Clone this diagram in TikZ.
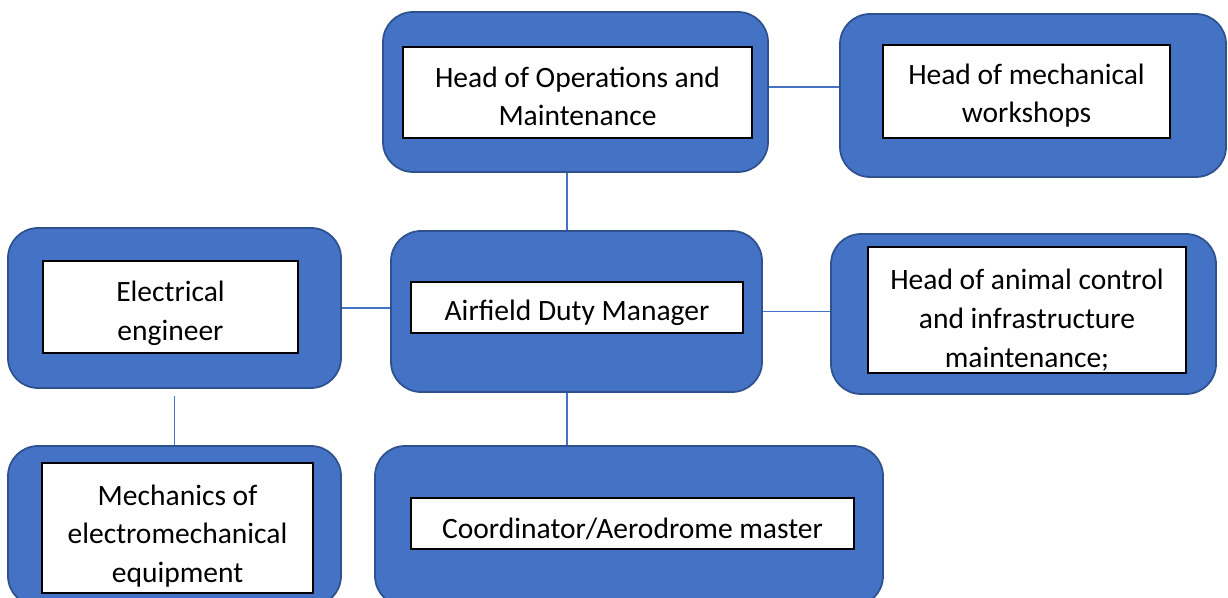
\documentclass[tikz,border=0pt]{standalone}
\usepackage{fontspec}
\setmainfont{Carlito}
\definecolor{boxblue}{HTML}{4472C4}
\definecolor{edgeblue}{HTML}{2F528F}
\tikzset{
  outerbox/.style={draw=edgeblue, line width=1pt, fill=boxblue, rounded corners=0.6cm, inner sep=0pt},
  innerbox/.style={draw=black, line width=0.8pt, fill=white, inner sep=0pt},
  boxtext/.style={align=center, inner sep=0pt, font=\fontsize{16.8}{22}\selectfont},
  link/.style={draw=boxblue, line width=0.7pt}
}
\begin{document}
\begin{tikzpicture}

    \useasboundingbox (0,0) rectangle (24.56,-11.96);
    \clip (0,0) rectangle (24.56,-11.96);

    \node[outerbox, minimum width=7.7cm, minimum height=3.2cm] at (11.51,-1.84) (hoom) {};
    \node[outerbox, minimum width=7.72cm, minimum height=3.26cm] at (20.66,-1.91) (shops) {};
    \node[outerbox, minimum width=6.66cm, minimum height=3.2cm] at (3.49,-6.16) (elec) {};
    \node[outerbox, minimum width=7.42cm, minimum height=3.22cm] at (11.53,-6.23) (adm) {};
    \node[outerbox, minimum width=7.7cm, minimum height=3.2cm] at (20.47,-6.28) (animal) {};
    \node[outerbox, minimum width=6.66cm, minimum height=3.2cm] at (3.49,-10.52) (mech) {};
    \node[outerbox, minimum width=10.16cm, minimum height=3.2cm] at (12.58,-10.52) (coord) {};

    \node[innerbox, minimum width=6.98cm, minimum height=1.82cm] at (11.55,-1.85) (hoombox) {};
    \node[innerbox, minimum width=5.74cm, minimum height=1.86cm] at (20.53,-1.83) (shopsbox) {};
    \node[innerbox, minimum width=5.1cm, minimum height=1.84cm] at (3.41,-6.14) (elecbox) {};
    \node[innerbox, minimum width=6.64cm, minimum height=1.02cm] at (11.54,-6.15) (admbox) {};
    \node[innerbox, minimum width=6.36cm, minimum height=2.52cm] at (20.54,-6.2) (animalbox) {};
    \node[innerbox, minimum width=5.42cm, minimum height=2.6cm] at (3.55,-10.56) (mechbox) {};
    \node[innerbox, minimum width=8.86cm, minimum height=1.02cm] at (12.65,-10.47) (coordbox) {};

    \node[boxtext] at ([yshift=-0.08cm]hoombox.center) (hoomlbl) {Head of Operations and\\Maintenance};
    \node[boxtext] at ([yshift=-0.08cm]shopsbox.center) (shopslbl) {Head of mechanical\\workshops};
    \node[boxtext] at ([yshift=-0.12cm]elecbox.center) (eleclbl) {Electrical\\engineer};
    \node[boxtext] at ([yshift=-0.11cm]admbox.center) (admlbl) {Airfield Duty Manager};
    \node[boxtext] at ([yshift=-0.2cm]animalbox.center) (animallbl) {Head of animal control\\and infrastructure\\maintenance;};
    \node[boxtext] at ([yshift=-0.16cm]mechbox.center) (mechlbl) {Mechanics of\\electromechanical\\equipment};
    \node[boxtext] at ([yshift=-0.1cm]coordbox.center) (coordlbl) {Coordinator/Aerodrome master};

    \draw[link] ([yshift=0.1cm]hoom.east) -- ([yshift=0.1cm]hoom.east -| shops.west);
    \draw[link] ([xshift=-0.17cm]hoom.south) -- ([xshift=-0.17cm]hoom.south |- adm.north);
    \draw[link] (elec.east) -- (elec.east -| adm.west);
    \draw[link] (adm.east) -- (adm.east -| animal.west);
    \draw[link] ([yshift=-0.14cm]elec.south) -- (elec.south |- mech.north);
    \draw[link] ([xshift=-0.19cm]adm.south) -- ([xshift=-0.19cm]adm.south |- coord.north);

\end{tikzpicture}
\end{document}
